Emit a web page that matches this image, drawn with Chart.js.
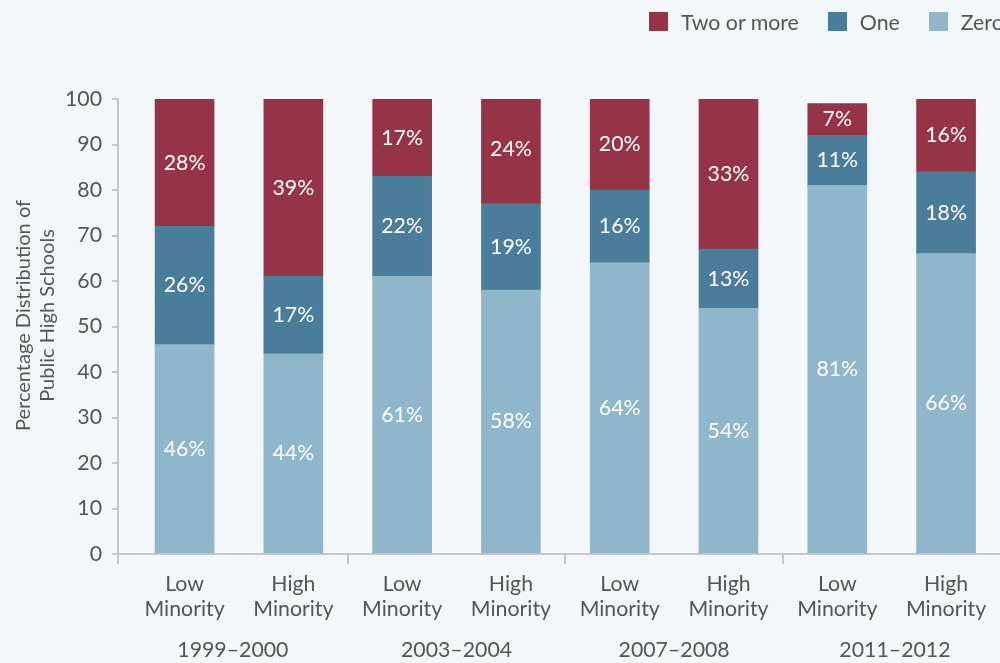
<!DOCTYPE html>
<html>
<head>
<meta charset="utf-8">
<title>Public High Schools by Minority Share</title>
<script src="https://cdn.jsdelivr.net/npm/chart.js@4/dist/chart.umd.min.js"></script>
<style>
  html, body { margin: 0; padding: 0; background: #f4f7fa; width: 1000px; height: 663px; overflow: hidden; }
  #wrap { position: relative; width: 1007px; height: 663px; }
  canvas { display: block; }
  #legend { position: absolute; left: 649px; top: 12px; display: flex; align-items: center;
            font: 21.3px Lato, sans-serif; color: #555; white-space: nowrap; }
  #legend .item { display: flex; align-items: center; height: 19px; margin-right: 29px; }
  #legend .box { width: 19px; height: 19px; margin-right: 13px; }
</style>
</head>
<body>
<div id="wrap">
  <canvas id="chart" width="1007" height="663"></canvas>
  <div id="legend"></div>
</div>
<script>
// school years, each with a low- and a high-minority bar
const years = ['1999–2000', '2003–2004', '2007–2008', '2011–2012'];
const minority = [['Low', 'Minority'], ['High', 'Minority']];

// share of schools (%) by count
const zero = [46, 44, 61, 58, 64, 54, 81, 66];
const one = [26, 17, 22, 19, 16, 13, 11, 18];
const twoOrMore = [28, 39, 17, 24, 20, 33, 7, 16];

const yTicks = [0, 10, 20, 30, 40, 50, 60, 70, 80, 90, 100];
const yTitle = ['Percentage Distribution of', 'Public High Schools'];

const barLabels = years.flatMap(() => minority);

const colors = { zero: '#8fb6cb', one: '#4a7d9a', two: '#943446' };
const textColor = '#555';
const axisColor = '#c6c6c6';
const fontSize = 21.3;

function points(values) {
    return values.map((v, i) => ({ x: i, y: v }));
}

// white percentages inside each segment
const segmentLabels = {
    id: 'segmentLabels',
    afterDatasetsDraw(chart) {
        const ctx = chart.ctx;
        ctx.save();
        ctx.font = fontSize + 'px Lato';
        ctx.fillStyle = '#fff';
        ctx.textAlign = 'center';
        ctx.textBaseline = 'middle';
        chart.data.datasets.forEach((ds, d) => {
            chart.getDatasetMeta(d).data.forEach((bar, i) => {
                ctx.fillText(ds.data[i].y + '%', bar.x, (bar.y + bar.base) / 2);
            });
        });
        ctx.restore();
    }
};

// separators between year groups, year labels, and the rotated y title
const groupAxis = {
    id: 'groupAxis',
    afterDraw(chart) {
        const { ctx, chartArea, scales: { x } } = chart;
        const bounds = years.map((y, k) => k === 0 ? x.min : k * 2 - 0.5);
        bounds.push(x.max);
        ctx.save();
        ctx.strokeStyle = axisColor;
        ctx.lineWidth = 2;
        bounds.forEach(b => {
            const px = Math.round(x.getPixelForValue(b));
            ctx.beginPath();
            ctx.moveTo(px, x.top);
            ctx.lineTo(px, x.top + 10);
            ctx.stroke();
        });
        ctx.font = fontSize + 'px Lato';
        ctx.fillStyle = textColor;
        ctx.textAlign = 'center';
        ctx.textBaseline = 'middle';
        years.forEach((label, k) => {
            const mid = (x.getPixelForValue(bounds[k]) + x.getPixelForValue(bounds[k + 1])) / 2;
            ctx.fillText(label, mid, x.top + 96);
        });

        // y title sits a little above the middle of the plot
        ctx.font = '20px Lato';
        ctx.translate(24, (chartArea.top + chartArea.bottom) / 2 - 11);
        ctx.rotate(-Math.PI / 2);
        yTitle.forEach((line, k) => ctx.fillText(line, 0, k * 24));
        ctx.restore();
    }
};

function drawLegend(datasets) {
    const box = document.getElementById('legend');
    datasets.slice().reverse().forEach(ds => {
        const item = document.createElement('div');
        item.className = 'item';
        const swatch = document.createElement('span');
        swatch.className = 'box';
        swatch.style.background = ds.backgroundColor;
        item.appendChild(swatch);
        item.appendChild(document.createTextNode(ds.label));
        box.appendChild(item);
    });
}

function build() {
    Chart.defaults.font.family = 'Lato';
    Chart.defaults.font.size = fontSize;
    Chart.defaults.color = textColor;

    const datasets = [
        { label: 'Zero', data: points(zero), backgroundColor: colors.zero },
        { label: 'One', data: points(one), backgroundColor: colors.one },
        { label: 'Two or more', data: points(twoOrMore), backgroundColor: colors.two }
    ];

    new Chart(document.getElementById('chart'), {
        type: 'bar',
        data: { datasets: datasets },
        options: {
            responsive: false,
            animation: false,
            barThickness: 59,
            layout: { padding: { top: 99, left: 0, right: 0, bottom: 0 } },
            plugins: { legend: { display: false }, tooltip: { enabled: false } },
            scales: {
                x: {
                    type: 'linear',
                    stacked: true,
                    offset: false,
                    min: -0.612,
                    max: 7.56,
                    afterBuildTicks: axis => { axis.ticks = barLabels.map((_, i) => ({ value: i })); },
                    afterFit: scale => { scale.height = 109; },
                    grid: { display: false },
                    border: { color: axisColor, width: 2 },
                    ticks: {
                        autoSkip: false,
                        maxRotation: 0,
                        padding: 10,
                        color: textColor,
                        font: { size: fontSize, lineHeight: 1.17 },
                        callback: (value) => barLabels[value]
                    }
                },
                y: {
                    stacked: true,
                    min: 0,
                    max: 100,
                    afterBuildTicks: axis => { axis.ticks = yTicks.map(v => ({ value: v })); },
                    afterFit: scale => { scale.width = 118; },
                    grid: { drawOnChartArea: false, tickLength: 6, color: axisColor, lineWidth: 2 },
                    border: { color: axisColor, width: 2 },
                    ticks: { padding: 10, color: textColor, font: { size: fontSize } }
                }
            }
        },
        plugins: [segmentLabels, groupAxis]
    });

    drawLegend(datasets);
}

if (document.fonts && document.fonts.load) {
    document.fonts.load(fontSize + 'px Lato').then(build, build);
} else {
    build();
}
</script>
</body>
</html>
